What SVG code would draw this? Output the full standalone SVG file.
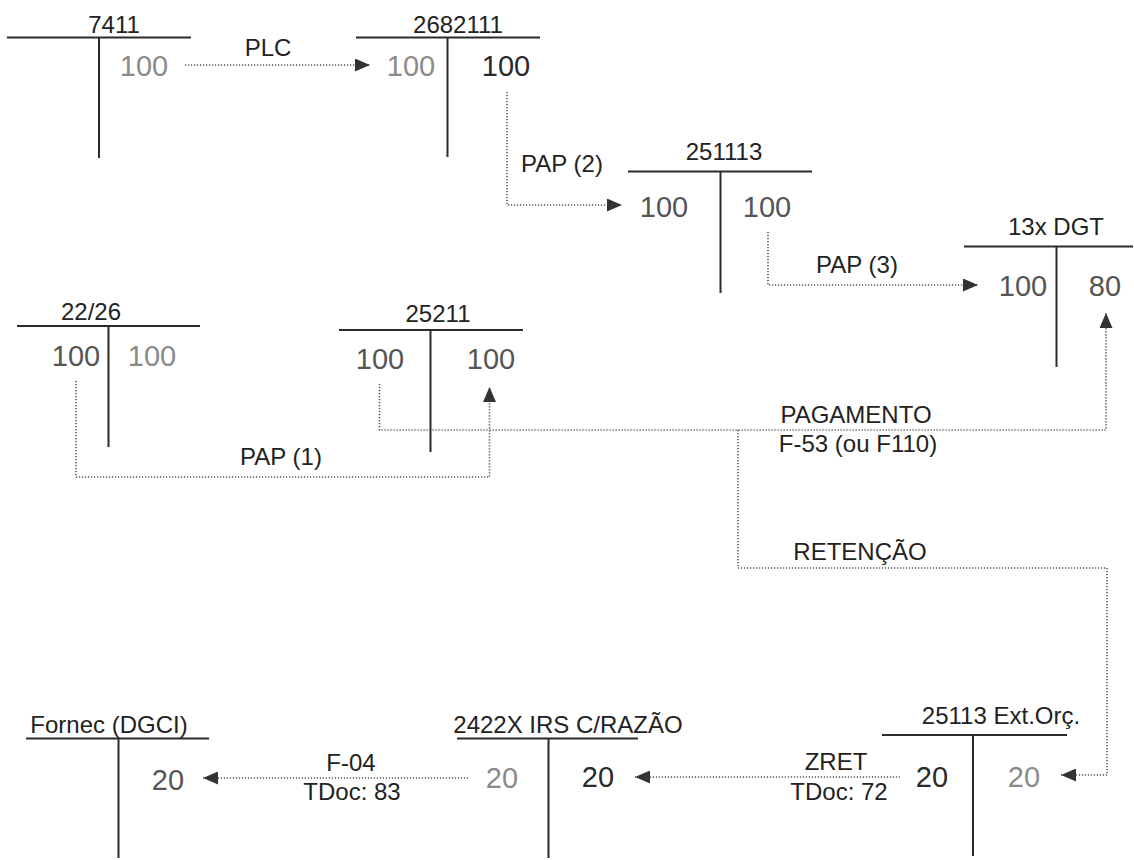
<svg xmlns="http://www.w3.org/2000/svg" width="1134" height="860" viewBox="0 0 1134 860">
<defs>
<style>
.bg{fill:#ffffff}
.tl{stroke:#2b2b2b;stroke-width:2;fill:none}
.ttl{font-family:"Liberation Sans",Arial,sans-serif;font-size:24px;fill:#222;text-anchor:middle}
.lbl{font-family:"Liberation Sans",Arial,sans-serif;font-size:24px;fill:#222;text-anchor:middle}
.num{font-family:"Liberation Sans",Arial,sans-serif;font-size:29px;text-anchor:middle}
.lt{fill:#8a8a8a}
.md{fill:#555}
.dk{fill:#2a2a2a}
.dot{stroke:#555;stroke-width:1.6;stroke-dasharray:1.2 1.8;fill:none;marker-end:url(#ah)}
</style>
<marker id="ah" markerUnits="userSpaceOnUse" markerWidth="15" markerHeight="13" refX="15" refY="6.5" orient="auto">
<path d="M0,0 L15,6.5 L0,13 z" fill="#333"/>
</marker>
</defs>
<rect class="bg" x="0" y="0" width="1134" height="860"/>

<g id="connectors">
<path class="dot" d="M185,65 H370"/>
<path class="dot" d="M507,92 V205 H622"/>
<path class="dot" d="M768,232 V285 H978"/>
<path class="dot" d="M76,381 V477 H489.5 V387"/>
<path class="dot" d="M379.5,384 V430 H1106 V313"/>
<path class="dot" d="M738,430 V568 H1107 V775 H1061"/>
<path class="dot" d="M900,777 H635"/>
<path class="dot" d="M468,778 H203"/>
<text class="lbl" x="268" y="56">PLC</text>
<text class="lbl" x="562" y="172">PAP (2)</text>
<text class="lbl" x="857" y="273">PAP (3)</text>
<text class="lbl" x="281" y="465">PAP (1)</text>
<text class="lbl" x="856" y="423">PAGAMENTO</text>
<text class="lbl" x="858" y="452">F-53 (ou F110)</text>
<text class="lbl" x="860" y="560">RETENÇÃO</text>
<text class="lbl" x="351" y="771">F-04</text>
<text class="lbl" x="352" y="800">TDoc: 83</text>
<text class="lbl" x="836" y="770">ZRET</text>
<text class="lbl" x="839" y="800">TDoc: 72</text>
</g>

<g id="n7411">
<path class="tl" d="M7,37.5 H191 M99,37.5 V158"/>
<text class="ttl" x="114" y="33">7411</text>
<text class="num lt" x="144" y="76">100</text>
</g>

<g id="n2682111">
<path class="tl" d="M356,37.5 H540 M447.5,37.5 V157"/>
<text class="ttl" x="458" y="33">2682111</text>
<text class="num lt" x="411" y="76">100</text>
<text class="num dk" x="506" y="76">100</text>
</g>

<g id="n251113">
<path class="tl" d="M628,171.5 H812 M720.5,171.5 V293"/>
<text class="ttl" x="724" y="160">251113</text>
<text class="num md" x="664" y="217">100</text>
<text class="num md" x="767" y="217">100</text>
</g>

<g id="n13xDGT">
<path class="tl" d="M964,246.5 H1133 M1056.5,246.5 V367"/>
<text class="ttl" x="1056" y="235">13x DGT</text>
<text class="num md" x="1023" y="296">100</text>
<text class="num md" x="1105" y="296">80</text>
</g>

<g id="n2226">
<path class="tl" d="M17,326 H200 M108.5,326 V447"/>
<text class="ttl" x="91" y="320">22/26</text>
<text class="num md" x="76" y="365.5">100</text>
<text class="num lt" x="152" y="365.5">100</text>
</g>

<g id="n25211">
<path class="tl" d="M339,330 H523 M430.5,330 V452"/>
<text class="ttl" x="438" y="322">25211</text>
<text class="num md" x="380" y="369">100</text>
<text class="num md" x="491" y="369">100</text>
</g>

<g id="nFornec">
<path class="tl" d="M26,738.5 H209 M118.5,738.5 V858"/>
<text class="ttl" x="109" y="733">Fornec (DGCI)</text>
<text class="num md" x="168" y="790">20</text>
</g>

<g id="n2422X">
<path class="tl" d="M457,738.5 H638 M548.5,738.5 V858"/>
<text class="ttl" x="568" y="733">2422X IRS C/RAZÃO</text>
<text class="num lt" x="502" y="788">20</text>
<text class="num dk" x="598" y="787">20</text>
</g>

<g id="n25113">
<path class="tl" d="M882,735 H1067 M973,735 V856"/>
<text class="ttl" x="1001" y="724">25113 Ext.Orç.</text>
<text class="num dk" x="932" y="787">20</text>
<text class="num lt" x="1024" y="787">20</text>
</g>
</svg>
